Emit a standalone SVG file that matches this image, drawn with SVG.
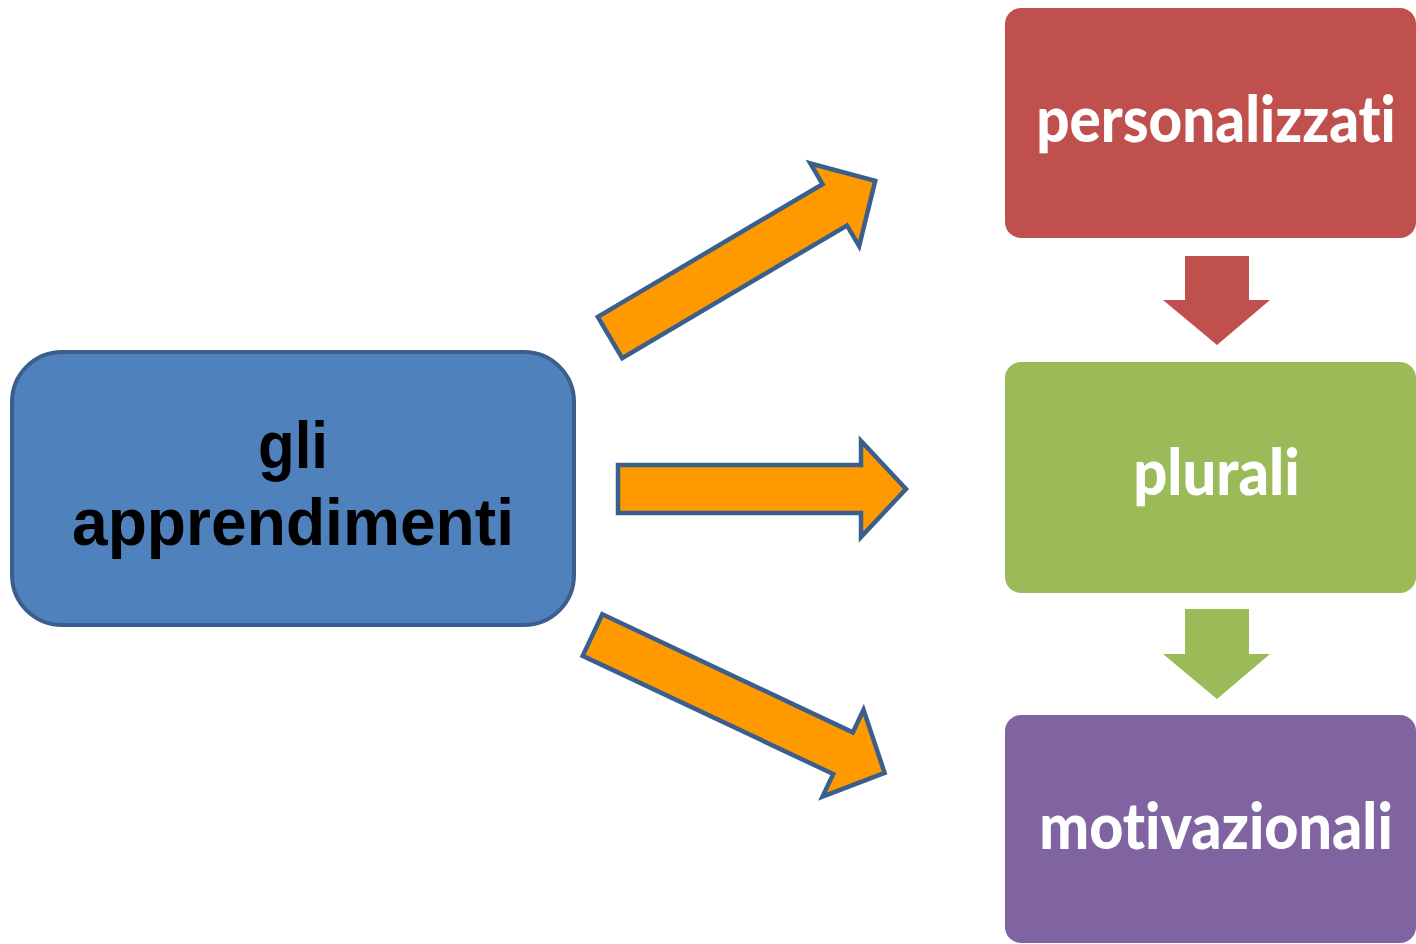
<svg xmlns="http://www.w3.org/2000/svg" width="1416" height="944" viewBox="0 0 1416 944">
<style>
.bg{fill:#ffffff}
.orange{fill:#ff9900;stroke:#3b5f8d;stroke-width:4.5;stroke-linejoin:miter}
.lbl{font-family:"Lato","Liberation Sans",sans-serif;font-weight:900;fill:#ffffff;font-size:64px;text-anchor:middle;font-variant-ligatures:none;font-feature-settings:"liga" 0,"clig" 0}
.main{font-family:"Liberation Sans","DejaVu Sans",sans-serif;font-weight:bold;fill:#000000;font-size:66px;text-anchor:middle}
</style>
<rect class="bg" x="0" y="0" width="1416" height="944"/>
<g id="connectors">
<polygon class="orange" transform="translate(610,337.5) rotate(-30.56)" points="0,-24 261,-24 261,-48 308,0 261,48 261,24 0,24"/>
<polygon class="orange" transform="translate(618,489)" points="0,-24 243,-24 243,-48 288,0 243,48 243,24 0,24"/>
<polygon class="orange" transform="translate(592.5,635) rotate(25.26)" points="0,-23 277,-23 277,-48 323,0 277,48 277,23 0,23"/>
<polygon fill="#c0504d" points="1185,256 1249,256 1249,300 1270,300 1217,345 1163,300 1185,300"/>
<polygon fill="#9bbb59" points="1185,609 1249,609 1249,654 1270,654 1217,699 1163,654 1185,654"/>
</g>
<g id="node-apprendimenti">
<rect x="12" y="352" width="562" height="273" rx="50" ry="50" fill="#4f81bd" stroke="#3b5f8d" stroke-width="4"/>
<text class="main" x="293" y="468" textLength="70" lengthAdjust="spacingAndGlyphs">gli</text>
<text class="main" x="293" y="545" textLength="442" lengthAdjust="spacingAndGlyphs">apprendimenti</text>
</g>
<g id="node-personalizzati">
<rect x="1005" y="8" width="411" height="230" rx="16" ry="16" fill="#c0504d"/>
<text class="lbl" transform="translate(1216,142) scale(0.85,1)" x="0" y="0" textLength="423" lengthAdjust="spacingAndGlyphs">personalizzati</text>
</g>
<g id="node-plurali">
<rect x="1005" y="362" width="411" height="231" rx="16" ry="16" fill="#9bbb59"/>
<text class="lbl" transform="translate(1216.5,495) scale(0.85,1)" x="0" y="0" textLength="196" lengthAdjust="spacingAndGlyphs">plurali</text>
</g>
<g id="node-motivazionali">
<rect x="1005" y="715" width="411" height="228" rx="16" ry="16" fill="#8064a2"/>
<text class="lbl" transform="translate(1216,849) scale(0.85,1)" x="0" y="0" textLength="416" lengthAdjust="spacingAndGlyphs">motivazionali</text>
</g>
</svg>
